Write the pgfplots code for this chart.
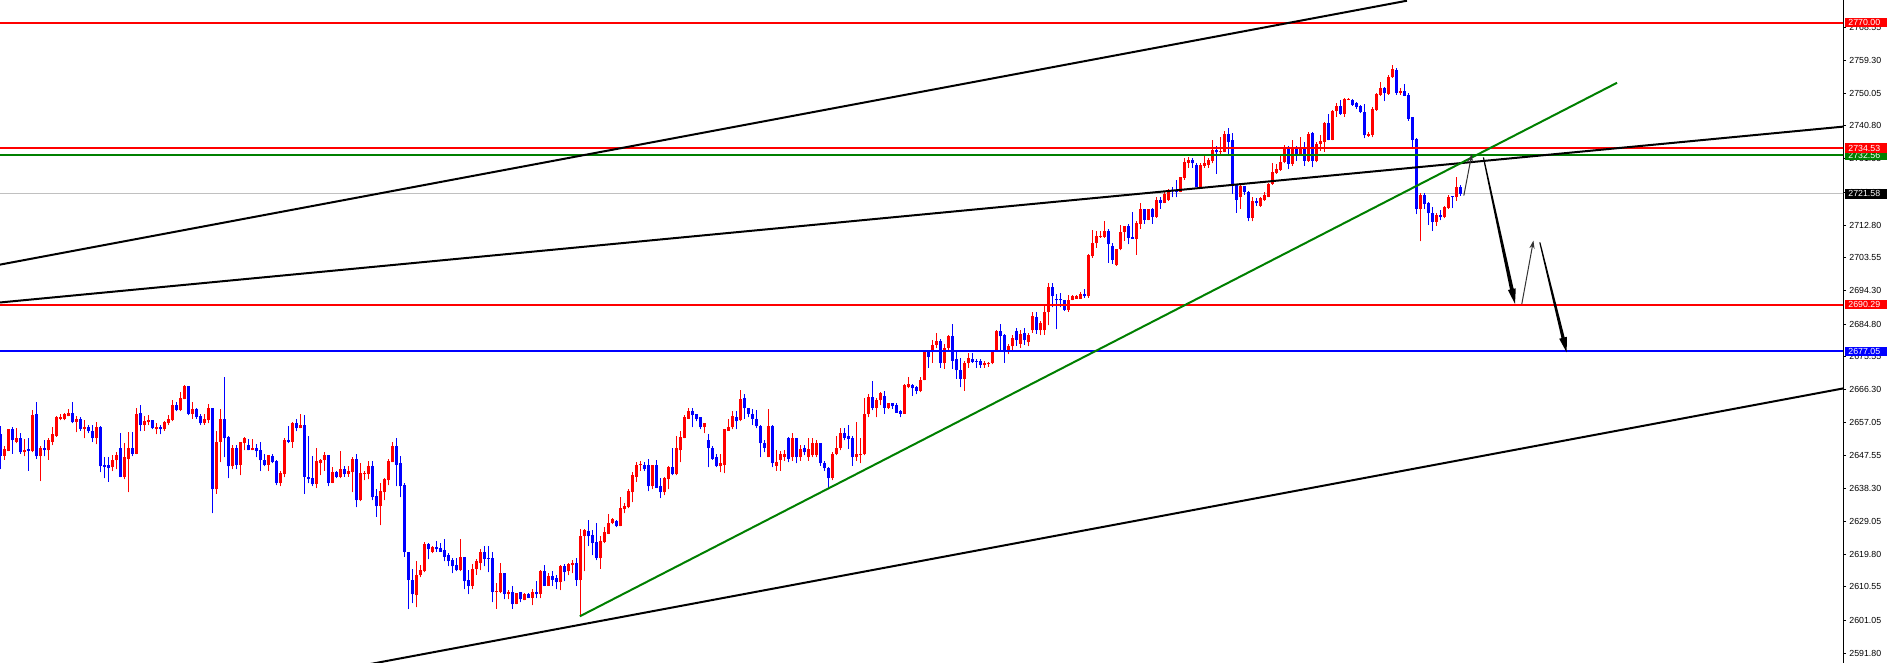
\documentclass[border=0pt]{standalone}
\usepackage{pgfplots}
\pgfplotsset{compat=1.18}
\usepackage{pgfplotstable}
\usepackage{fontspec}
\setmainfont{Liberation Sans}
\usetikzlibrary{arrows.meta}

\definecolor{bull}{RGB}{255,0,0}
\definecolor{bear}{RGB}{0,0,255}
\definecolor{mtgreen}{RGB}{0,128,0}
\definecolor{mtgray}{RGB}{192,192,192}

% candle index, open, high, low, close
\pgfplotstableread{
i o h l c
0 2653.6 2655.9 2643.7 2647.5
1 2647.5 2650.2 2646.5 2649.4
2 2649.0 2655.0 2648.8 2655.0
3 2655.0 2655.6 2648.1 2651.9
4 2651.6 2655.3 2651.1 2652.5
5 2652.5 2653.9 2648.1 2648.5
6 2648.5 2652.2 2647.4 2649.1
7 2649.4 2652.5 2643.3 2649.0
8 2648.8 2660.4 2648.5 2659.0
9 2659.4 2662.9 2646.8 2647.4
10 2647.4 2650.2 2640.4 2649.7
11 2649.7 2651.9 2647.4 2649.1
12 2649.1 2652.5 2646.5 2651.9
13 2651.6 2655.6 2650.5 2653.6
14 2653.3 2658.7 2653.0 2658.4
15 2658.0 2659.5 2657.6 2658.4
16 2657.9 2659.8 2657.6 2659.3
17 2658.7 2660.7 2658.7 2659.8
18 2659.8 2662.7 2656.7 2657.0
19 2657.0 2658.7 2654.2 2657.9
20 2657.9 2658.4 2654.7 2655.0
21 2655.0 2657.6 2652.5 2655.6
22 2655.6 2656.2 2653.9 2654.5
23 2654.7 2656.2 2651.4 2652.5
24 2652.5 2657.0 2650.8 2655.6
25 2655.6 2655.9 2642.9 2644.6
26 2644.9 2647.1 2641.2 2644.3
27 2644.9 2647.1 2640.3 2644.0
28 2644.3 2647.7 2643.2 2646.5
29 2646.3 2648.5 2643.7 2647.7
30 2649.9 2653.9 2641.5 2641.7
31 2641.7 2651.1 2640.9 2647.1
32 2646.8 2654.2 2637.2 2649.9
33 2649.9 2654.2 2647.4 2648.2
34 2648.2 2661.0 2648.0 2659.5
35 2659.8 2661.8 2654.5 2656.2
36 2656.2 2658.7 2654.7 2657.3
37 2657.0 2659.0 2656.2 2657.6
38 2657.6 2657.6 2655.0 2655.3
39 2655.0 2656.7 2653.6 2655.6
40 2655.6 2656.2 2653.6 2655.0
41 2655.0 2657.3 2654.7 2657.0
42 2656.7 2659.0 2656.2 2657.9
43 2657.6 2663.2 2657.3 2661.8
44 2661.8 2662.9 2660.1 2660.4
45 2660.4 2665.5 2660.1 2663.8
46 2663.5 2667.5 2663.5 2667.2
47 2667.2 2667.2 2659.0 2659.5
48 2659.5 2662.7 2658.1 2660.7
49 2660.7 2661.2 2658.1 2658.4
50 2658.7 2659.5 2656.2 2656.7
51 2656.7 2659.5 2656.4 2657.9
52 2657.6 2662.1 2656.7 2661.0
53 2661.0 2661.2 2631.3 2638.1
54 2638.1 2654.7 2636.9 2651.6
55 2651.6 2660.7 2645.7 2658.1
56 2658.1 2669.7 2647.1 2652.5
57 2652.8 2653.3 2641.2 2644.6
58 2644.6 2650.5 2643.7 2649.9
59 2649.7 2650.5 2643.7 2644.9
60 2644.9 2651.6 2642.0 2651.4
61 2651.1 2652.8 2649.1 2652.5
62 2650.5 2652.2 2649.1 2649.1
63 2649.1 2652.2 2649.1 2649.9
64 2649.9 2650.8 2647.1 2648.8
65 2649.1 2651.6 2643.2 2646.3
66 2646.5 2648.2 2644.6 2645.1
67 2645.1 2647.7 2643.2 2647.7
68 2647.4 2648.2 2645.4 2645.7
69 2646.0 2646.3 2639.2 2639.8
70 2639.8 2643.4 2638.9 2642.6
71 2642.3 2652.5 2641.5 2651.9
72 2651.9 2655.9 2651.1 2651.6
73 2651.4 2657.0 2649.9 2656.7
74 2656.7 2658.1 2654.5 2655.3
75 2655.3 2659.3 2655.3 2656.4
76 2656.4 2659.0 2636.9 2641.7
77 2641.7 2653.3 2639.8 2640.9
78 2641.2 2647.4 2638.9 2639.5
79 2639.5 2649.7 2638.4 2646.0
80 2645.4 2646.8 2642.0 2646.5
81 2646.3 2648.5 2643.4 2647.7
82 2647.7 2647.7 2638.9 2640.0
83 2640.0 2644.3 2639.8 2642.9
84 2642.9 2643.2 2641.2 2641.7
85 2641.7 2648.8 2641.2 2643.7
86 2643.7 2644.6 2641.7 2642.3
87 2642.3 2644.6 2641.7 2643.2
88 2642.9 2647.1 2637.2 2646.8
89 2646.8 2648.0 2633.0 2635.0
90 2635.0 2645.4 2634.7 2642.6
91 2642.3 2643.4 2640.6 2642.6
92 2642.3 2646.0 2640.9 2644.6
93 2644.6 2646.0 2635.0 2635.8
94 2636.1 2638.1 2630.4 2633.3
95 2633.3 2640.0 2627.9 2637.5
96 2637.2 2641.2 2635.0 2640.9
97 2640.6 2646.8 2639.2 2646.0
98 2645.7 2651.6 2645.7 2650.2
99 2650.2 2652.5 2638.9 2645.1
100 2645.4 2647.4 2635.8 2638.9
101 2639.2 2640.0 2619.1 2620.3
102 2620.5 2620.5 2604.2 2612.4
103 2612.6 2615.7 2605.9 2608.4
104 2608.1 2617.7 2604.7 2614.0
105 2613.8 2616.6 2613.2 2615.2
106 2614.9 2623.1 2614.6 2622.5
107 2622.5 2622.8 2618.3 2621.1
108 2620.5 2622.0 2620.0 2621.7
109 2621.7 2623.4 2620.5 2621.1
110 2621.4 2622.8 2620.5 2620.5
111 2620.8 2624.0 2617.7 2619.1
112 2619.4 2620.0 2616.3 2617.7
113 2618.0 2618.6 2614.3 2616.3
114 2616.6 2618.6 2614.9 2615.2
115 2615.2 2624.0 2614.9 2619.1
116 2619.1 2619.1 2609.8 2612.1
117 2612.4 2615.2 2608.4 2610.9
118 2610.9 2616.9 2609.8 2615.7
119 2615.5 2618.3 2614.0 2617.7
120 2617.2 2621.1 2615.2 2620.5
121 2620.5 2622.0 2616.3 2618.3
122 2618.6 2622.0 2614.6 2618.3
123 2618.6 2620.3 2606.1 2609.0
124 2609.0 2611.5 2604.4 2609.2
125 2609.0 2617.4 2608.7 2614.3
126 2614.3 2614.3 2607.0 2608.4
127 2608.4 2609.5 2607.0 2609.2
128 2609.2 2610.7 2604.4 2605.6
129 2605.6 2608.7 2605.6 2608.7
130 2609.0 2609.0 2606.1 2607.0
131 2606.7 2608.7 2606.7 2608.4
132 2608.4 2608.7 2607.3 2607.5
133 2607.5 2609.8 2605.3 2609.0
134 2609.0 2612.1 2607.3 2608.4
135 2608.4 2615.2 2607.3 2614.9
136 2614.9 2616.6 2610.7 2610.9
137 2610.9 2614.3 2610.7 2613.5
138 2613.5 2614.9 2610.9 2612.6
139 2612.9 2614.0 2609.8 2611.8
140 2611.8 2616.6 2609.5 2616.3
141 2616.3 2616.9 2612.1 2614.6
142 2614.9 2617.2 2613.8 2616.9
143 2616.6 2618.0 2614.3 2617.4
144 2617.4 2618.6 2610.9 2612.4
145 2612.4 2626.8 2602.2 2624.8
146 2624.8 2627.0 2614.9 2626.5
147 2626.2 2629.3 2622.0 2624.8
148 2625.1 2626.5 2619.4 2622.8
149 2623.1 2628.7 2618.0 2618.6
150 2618.6 2624.8 2615.7 2623.4
151 2623.1 2627.3 2622.8 2625.9
152 2625.6 2631.0 2625.4 2628.7
153 2628.5 2629.9 2628.2 2629.6
154 2629.0 2629.3 2627.3 2627.6
155 2627.6 2635.8 2627.6 2632.7
156 2632.4 2634.1 2631.3 2633.3
157 2633.0 2638.1 2632.7 2637.5
158 2637.2 2642.9 2634.4 2642.0
159 2641.7 2645.7 2640.3 2645.1
160 2644.9 2646.0 2643.4 2645.1
161 2645.1 2645.7 2643.2 2643.7
162 2644.9 2646.8 2637.5 2638.9
163 2638.9 2645.1 2638.1 2644.9
164 2644.9 2646.3 2638.4 2638.6
165 2638.9 2641.2 2635.5 2637.2
166 2637.2 2641.5 2636.4 2641.2
167 2640.9 2644.6 2638.1 2644.3
168 2644.3 2649.7 2642.0 2642.3
169 2642.3 2653.3 2642.0 2649.7
170 2649.1 2654.7 2645.7 2652.8
171 2652.5 2659.0 2652.5 2658.4
172 2658.1 2661.0 2657.9 2660.1
173 2660.1 2661.0 2655.6 2659.0
174 2659.3 2659.5 2657.3 2658.1
175 2658.4 2658.4 2655.0 2655.6
176 2655.6 2656.7 2653.9 2656.7
177 2651.9 2653.6 2644.3 2649.7
178 2649.9 2650.2 2646.5 2646.8
179 2647.1 2648.0 2644.3 2644.6
180 2644.6 2648.2 2642.9 2645.4
181 2645.1 2655.0 2642.6 2655.0
182 2654.7 2658.1 2654.7 2655.6
183 2655.6 2660.1 2655.0 2658.7
184 2658.4 2660.1 2655.0 2657.3
185 2657.6 2666.3 2657.3 2663.5
186 2663.8 2664.9 2658.1 2661.0
187 2661.0 2661.2 2658.4 2659.5
188 2659.5 2660.7 2656.2 2658.1
189 2658.1 2660.4 2655.3 2655.9
190 2656.1 2656.4 2647.1 2651.1
191 2651.3 2651.9 2648.5 2649.9
192 2647.1 2660.9 2647.1 2656.1
193 2656.1 2656.4 2644.3 2645.4
194 2644.8 2649.1 2643.4 2645.9
195 2646.5 2648.8 2643.4 2648.2
196 2647.1 2649.1 2646.2 2648.2
197 2652.5 2653.0 2645.7 2646.8
198 2647.1 2653.9 2646.2 2652.5
199 2652.7 2652.7 2645.4 2647.1
200 2647.1 2650.5 2646.2 2649.6
201 2649.9 2650.5 2647.7 2648.5
202 2647.1 2652.5 2646.2 2649.6
203 2647.7 2652.5 2647.1 2651.1
204 2647.7 2651.9 2647.1 2651.1
205 2651.1 2651.3 2644.8 2645.4
206 2645.4 2646.2 2643.4 2644.0
207 2644.0 2644.3 2638.3 2641.2
208 2641.2 2648.5 2640.6 2648.2
209 2648.2 2653.3 2647.7 2649.9
210 2649.9 2655.3 2649.1 2653.9
211 2653.9 2655.3 2651.9 2652.7
212 2653.3 2656.4 2649.6 2652.2
213 2652.7 2653.3 2644.8 2647.1
214 2647.1 2657.0 2646.2 2648.2
215 2647.7 2652.5 2645.4 2648.2
216 2648.0 2663.8 2647.7 2659.5
217 2659.5 2664.9 2658.4 2664.3
218 2664.3 2668.6 2660.4 2661.2
219 2661.2 2664.0 2658.4 2663.2
220 2663.2 2665.5 2661.8 2665.2
221 2664.6 2666.0 2659.5 2661.2
222 2661.2 2662.4 2660.9 2662.4
223 2662.4 2662.6 2660.9 2661.5
224 2661.8 2662.4 2659.8 2659.8
225 2660.1 2660.4 2658.4 2659.5
226 2659.5 2668.0 2659.5 2667.7
227 2666.9 2669.7 2666.6 2668.0
228 2667.7 2668.0 2664.6 2666.6
229 2666.9 2667.4 2664.9 2666.0
230 2666.0 2669.7 2665.5 2669.1
231 2668.9 2677.3 2668.9 2676.8
232 2676.8 2677.3 2672.5 2675.6
233 2676.8 2680.2 2673.9 2679.0
234 2679.0 2682.4 2677.9 2679.9
235 2679.9 2680.7 2672.5 2673.7
236 2673.7 2679.3 2672.2 2677.9
237 2677.9 2681.6 2677.3 2681.3
238 2681.3 2684.9 2672.2 2674.5
239 2674.8 2677.3 2669.4 2671.7
240 2671.7 2675.3 2666.9 2669.4
241 2669.4 2674.5 2666.0 2673.7
242 2673.7 2676.5 2672.5 2675.1
243 2674.8 2676.5 2673.9 2674.2
244 2674.5 2674.8 2672.5 2674.2
245 2674.5 2674.8 2672.5 2673.1
246 2673.1 2674.5 2672.5 2673.7
247 2673.4 2674.2 2672.8 2673.9
248 2673.7 2677.6 2673.4 2677.6
249 2677.6 2683.0 2677.3 2682.7
250 2682.7 2684.7 2677.3 2681.3
251 2681.6 2682.1 2673.9 2676.8
252 2676.8 2679.3 2676.2 2678.7
253 2678.5 2681.6 2677.3 2680.9
254 2682.7 2683.8 2678.7 2680.2
255 2679.3 2683.0 2678.1 2682.1
256 2682.4 2683.8 2679.0 2680.2
257 2679.6 2682.4 2678.5 2681.6
258 2683.0 2688.3 2682.4 2687.2
259 2686.9 2688.1 2682.1 2683.0
260 2683.0 2685.8 2681.6 2685.2
261 2683.0 2689.8 2681.8 2688.3
262 2688.1 2696.3 2684.4 2695.4
263 2695.4 2696.5 2689.5 2692.6
264 2691.7 2693.4 2683.3 2691.5
265 2691.7 2693.7 2689.5 2691.5
266 2691.5 2691.7 2688.6 2688.9
267 2688.9 2692.9 2688.3 2691.7
268 2691.5 2692.9 2691.5 2692.6
269 2692.0 2692.9 2692.0 2692.6
270 2692.0 2694.0 2692.0 2693.4
271 2693.4 2694.8 2692.3 2692.6
272 2692.6 2704.7 2692.3 2704.2
273 2703.9 2711.5 2703.6 2707.8
274 2707.6 2711.2 2706.4 2709.8
275 2709.5 2711.2 2709.2 2709.8
276 2709.5 2713.8 2709.2 2711.2
277 2711.2 2711.8 2702.2 2707.3
278 2707.0 2707.6 2701.9 2703.0
279 2701.6 2706.1 2701.3 2705.9
280 2705.9 2712.9 2705.6 2710.9
281 2710.9 2712.6 2708.4 2712.4
282 2712.4 2713.2 2707.3 2709.2
283 2709.5 2716.6 2708.9 2708.9
284 2708.9 2713.8 2704.4 2713.5
285 2713.2 2719.1 2711.8 2717.2
286 2717.2 2717.4 2713.2 2714.3
287 2714.3 2717.4 2714.1 2717.2
288 2717.4 2717.7 2713.2 2715.2
289 2715.2 2720.6 2714.9 2720.0
290 2720.0 2720.6 2717.4 2719.1
291 2719.1 2722.0 2718.9 2721.7
292 2720.0 2723.1 2719.7 2722.5
293 2722.8 2723.4 2720.6 2722.5
294 2722.8 2725.6 2720.6 2722.2
295 2722.2 2726.5 2722.0 2726.5
296 2726.2 2731.6 2725.6 2730.7
297 2730.4 2732.1 2729.0 2731.3
298 2731.3 2731.8 2729.0 2730.2
299 2729.9 2730.2 2723.4 2723.6
300 2723.6 2730.2 2723.4 2729.9
301 2729.6 2732.7 2729.0 2730.2
302 2729.9 2731.8 2729.0 2731.3
303 2731.0 2736.7 2730.2 2734.1
304 2734.1 2735.2 2727.3 2733.3
305 2733.3 2737.8 2733.0 2733.8
306 2733.5 2739.5 2733.3 2738.6
307 2738.6 2740.3 2733.0 2736.4
308 2736.7 2738.9 2721.7 2724.2
309 2724.2 2724.5 2716.3 2720.0
310 2720.6 2724.2 2717.4 2723.9
311 2723.9 2723.9 2721.4 2722.0
312 2722.0 2722.5 2713.8 2714.9
313 2714.9 2720.6 2713.8 2719.7
314 2719.7 2720.3 2718.3 2718.9
315 2718.3 2720.8 2718.0 2720.3
316 2720.0 2722.0 2719.7 2721.4
317 2720.8 2724.8 2720.6 2724.5
318 2724.4 2730.4 2724.2 2727.9
319 2727.6 2730.1 2727.3 2728.5
320 2728.4 2732.4 2728.2 2730.7
321 2730.5 2735.4 2730.2 2734.8
322 2734.8 2735.2 2728.6 2730.1
323 2730.1 2736.8 2729.6 2734.8
324 2734.8 2735.2 2731.0 2732.6
325 2732.9 2737.8 2732.4 2734.8
326 2734.8 2736.2 2729.6 2731.0
327 2731.0 2739.0 2730.7 2738.5
328 2738.7 2739.0 2729.1 2731.0
329 2731.0 2736.2 2730.5 2735.7
330 2735.7 2738.1 2733.8 2736.5
331 2736.2 2741.8 2733.5 2741.5
332 2741.5 2744.2 2736.7 2736.8
333 2736.8 2745.3 2736.7 2745.1
334 2744.9 2747.2 2743.4 2746.5
335 2746.5 2748.0 2743.9 2744.2
336 2744.2 2748.6 2743.4 2748.4
337 2748.2 2748.7 2748.0 2748.4
338 2748.0 2748.4 2746.5 2746.8
339 2747.3 2747.7 2745.6 2746.1
340 2746.3 2746.8 2744.4 2744.6
341 2744.8 2747.0 2737.3 2738.1
342 2738.0 2739.0 2737.8 2738.5
343 2738.3 2746.1 2737.6 2745.6
344 2745.4 2750.0 2745.1 2749.7
345 2749.6 2753.1 2749.4 2751.4
346 2751.4 2751.9 2747.8 2750.0
347 2749.8 2755.3 2749.6 2754.7
348 2754.5 2758.1 2754.4 2756.9
349 2756.7 2757.2 2749.6 2750.1
350 2750.1 2751.5 2749.6 2750.6
351 2750.6 2752.7 2749.2 2749.4
352 2749.6 2750.0 2742.3 2742.9
353 2743.2 2743.4 2734.3 2736.8
354 2737.1 2737.3 2715.9 2717.2
355 2717.2 2721.9 2708.2 2721.4
356 2721.4 2721.9 2717.4 2718.8
357 2719.0 2719.2 2712.9 2716.1
358 2716.3 2717.8 2711.2 2713.6
359 2713.6 2716.1 2712.6 2715.7
360 2715.7 2716.9 2714.1 2715.0
361 2715.0 2718.2 2714.7 2717.8
362 2717.6 2721.4 2717.4 2720.8
363 2721.0 2721.1 2717.6 2720.6
364 2720.6 2726.5 2719.7 2723.4
365 2723.4 2724.2 2721.1 2721.6
}\candles

\pgfplotsset{
  candlepart/.style={only marks, mark=*, mark size=0pt,
    mark options={draw=none, fill=none}, forget plot},
}

\begin{document}
\begin{tikzpicture}
\useasboundingbox (0,0) rectangle (944.5pt,331.5pt);
\fill[white] (0,0) rectangle (944.5pt,331.5pt);
\begin{axis}[
  at={(0,0)}, anchor=south west,
  scale only axis, width=921.5pt, height=331.5pt,
  xmin=-0.17, xmax=460.6, ymin=2589.0, ymax=2776.4,
  axis x line=none, axis y line*=right,
  axis line style={black, line width=0.5pt},
  ytick={2591.80,2601.05,2610.55,2619.80,2629.05,2638.30,2647.55,2657.05,2666.30,2675.55,2684.80,2694.30,2703.55,2712.80,2722.05,2731.55,2740.80,2750.05,2759.30,2768.55},
  yticklabels={2591.80,2601.05,2610.55,2619.80,2629.05,2638.30,2647.55,2657.05,2666.30,2675.55,2684.80,2694.30,2703.55,2712.80,2722.05,2731.55,2740.80,2750.05,2759.30,2768.55},
  ytick pos=right, tick align=outside, major tick length=1.5pt,
  tick style={black, line width=0.5pt},
  yticklabel style={font=\fontsize{4.4}{5}\selectfont, anchor=west, inner sep=0pt, xshift=1.5pt},
]
% last price line
\addplot[mtgray, line width=0.5pt] coordinates {(-1,2721.58) (470,2721.58)};

% candles: wicks and bodies drawn as error bars
\addplot[candlepart, restrict expr to domain={\thisrow{c}-\thisrow{o}}{0:1000},
  error bars/.cd, y dir=plus, y explicit, error mark=none,
  error bar style={line width=0.5pt, draw=bull}]
  table[x=i, y=l, y error plus expr={\thisrow{h}-\thisrow{l}}] {\candles};
\addplot[candlepart, restrict expr to domain={\thisrow{c}-\thisrow{o}}{0:1000},
  error bars/.cd, y dir=plus, y explicit, error mark=none,
  error bar style={line width=1.5pt, draw=bull}]
  table[x=i, y expr={min(\thisrow{o},\thisrow{c})}, y error plus expr={max(abs(\thisrow{c}-\thisrow{o}),0.3)}] {\candles};
\addplot[candlepart, restrict expr to domain={\thisrow{c}-\thisrow{o}}{-1000:-0.0001},
  error bars/.cd, y dir=plus, y explicit, error mark=none,
  error bar style={line width=0.5pt, draw=bear}]
  table[x=i, y=l, y error plus expr={\thisrow{h}-\thisrow{l}}] {\candles};
\addplot[candlepart, restrict expr to domain={\thisrow{c}-\thisrow{o}}{-1000:-0.0001},
  error bars/.cd, y dir=plus, y explicit, error mark=none,
  error bar style={line width=1.5pt, draw=bear}]
  table[x=i, y expr={min(\thisrow{o},\thisrow{c})}, y error plus expr={max(abs(\thisrow{c}-\thisrow{o}),0.3)}] {\candles};

% horizontal levels
\addplot[bull, line width=1pt] coordinates {(-1,2770.00) (470,2770.00)};
\addplot[mtgreen, line width=1.2pt] coordinates {(-1,2732.56) (470,2732.56)};
\addplot[bull, line width=1pt] coordinates {(-1,2734.53) (470,2734.53)};
\addplot[bull, line width=1pt] coordinates {(-1,2690.29) (470,2690.29)};
\addplot[bear, line width=1pt] coordinates {(-1,2677.05) (470,2677.05)};

% trend lines
\addplot[black, line width=1pt] coordinates {(-0.17,2701.6) (351.6,2776.2)};
\addplot[black, line width=1pt] coordinates {(-0.17,2690.9) (460.6,2740.6)};
\addplot[black, line width=1pt] coordinates {(90.0,2588.2) (460.6,2666.6)};
\addplot[mtgreen, line width=1pt] coordinates {(144.8,2602.2) (404.1,2753.0)};

% projected path arrows
\draw[black!80, line width=0.5pt, -{Stealth[length=4pt,width=2.6pt]}]
  (axis cs:365.8,2721.1) -- (axis cs:367.8,2732.9);
\fill[black] (axis cs:370.55,2731.9) -- (axis cs:370.85,2731.9) -- (axis cs:378.25,2694.76)
  -- (axis cs:378.78,2694.89) -- (axis cs:378.6,2690.5) -- (axis cs:376.82,2694.41)
  -- (axis cs:377.35,2694.54) -- cycle;
\draw[black!80, line width=0.5pt, -{Stealth[length=4pt,width=2.6pt]}]
  (axis cs:380.3,2690.5) -- (axis cs:383.2,2708.4);
\fill[black] (axis cs:384.65,2707.9) -- (axis cs:384.95,2707.9) -- (axis cs:391.0,2681.04)
  -- (axis cs:391.58,2681.2) -- (axis cs:391.5,2676.8) -- (axis cs:389.64,2680.66)
  -- (axis cs:390.22,2680.82) -- cycle;

\coordinate (p1) at (axis cs:460.6,2770.00);
\coordinate (p2) at (axis cs:460.6,2734.53);
\coordinate (p3) at (axis cs:460.6,2732.56);
\coordinate (p4) at (axis cs:460.6,2721.58);
\coordinate (p5) at (axis cs:460.6,2690.29);
\coordinate (p6) at (axis cs:460.6,2677.05);
\end{axis}
\tikzset{pricebox/.style={anchor=west, inner xsep=1.5pt, inner ysep=0pt,
  minimum height=4.8pt, text width=18pt, text=white,
  font=\fontsize{4.4}{5}\selectfont}}
\node[pricebox, fill=mtgreen] at ([xshift=1pt]p3) {2732.56};
\node[pricebox, fill=bull] at ([xshift=1pt]p1) {2770.00};
\node[pricebox, fill=bull] at ([xshift=1pt]p2) {2734.53};
\node[pricebox, fill=black] at ([xshift=1pt]p4) {2721.58};
\node[pricebox, fill=bull] at ([xshift=1pt]p5) {2690.29};
\node[pricebox, fill=bear] at ([xshift=1pt]p6) {2677.05};
\end{tikzpicture}
\end{document}
